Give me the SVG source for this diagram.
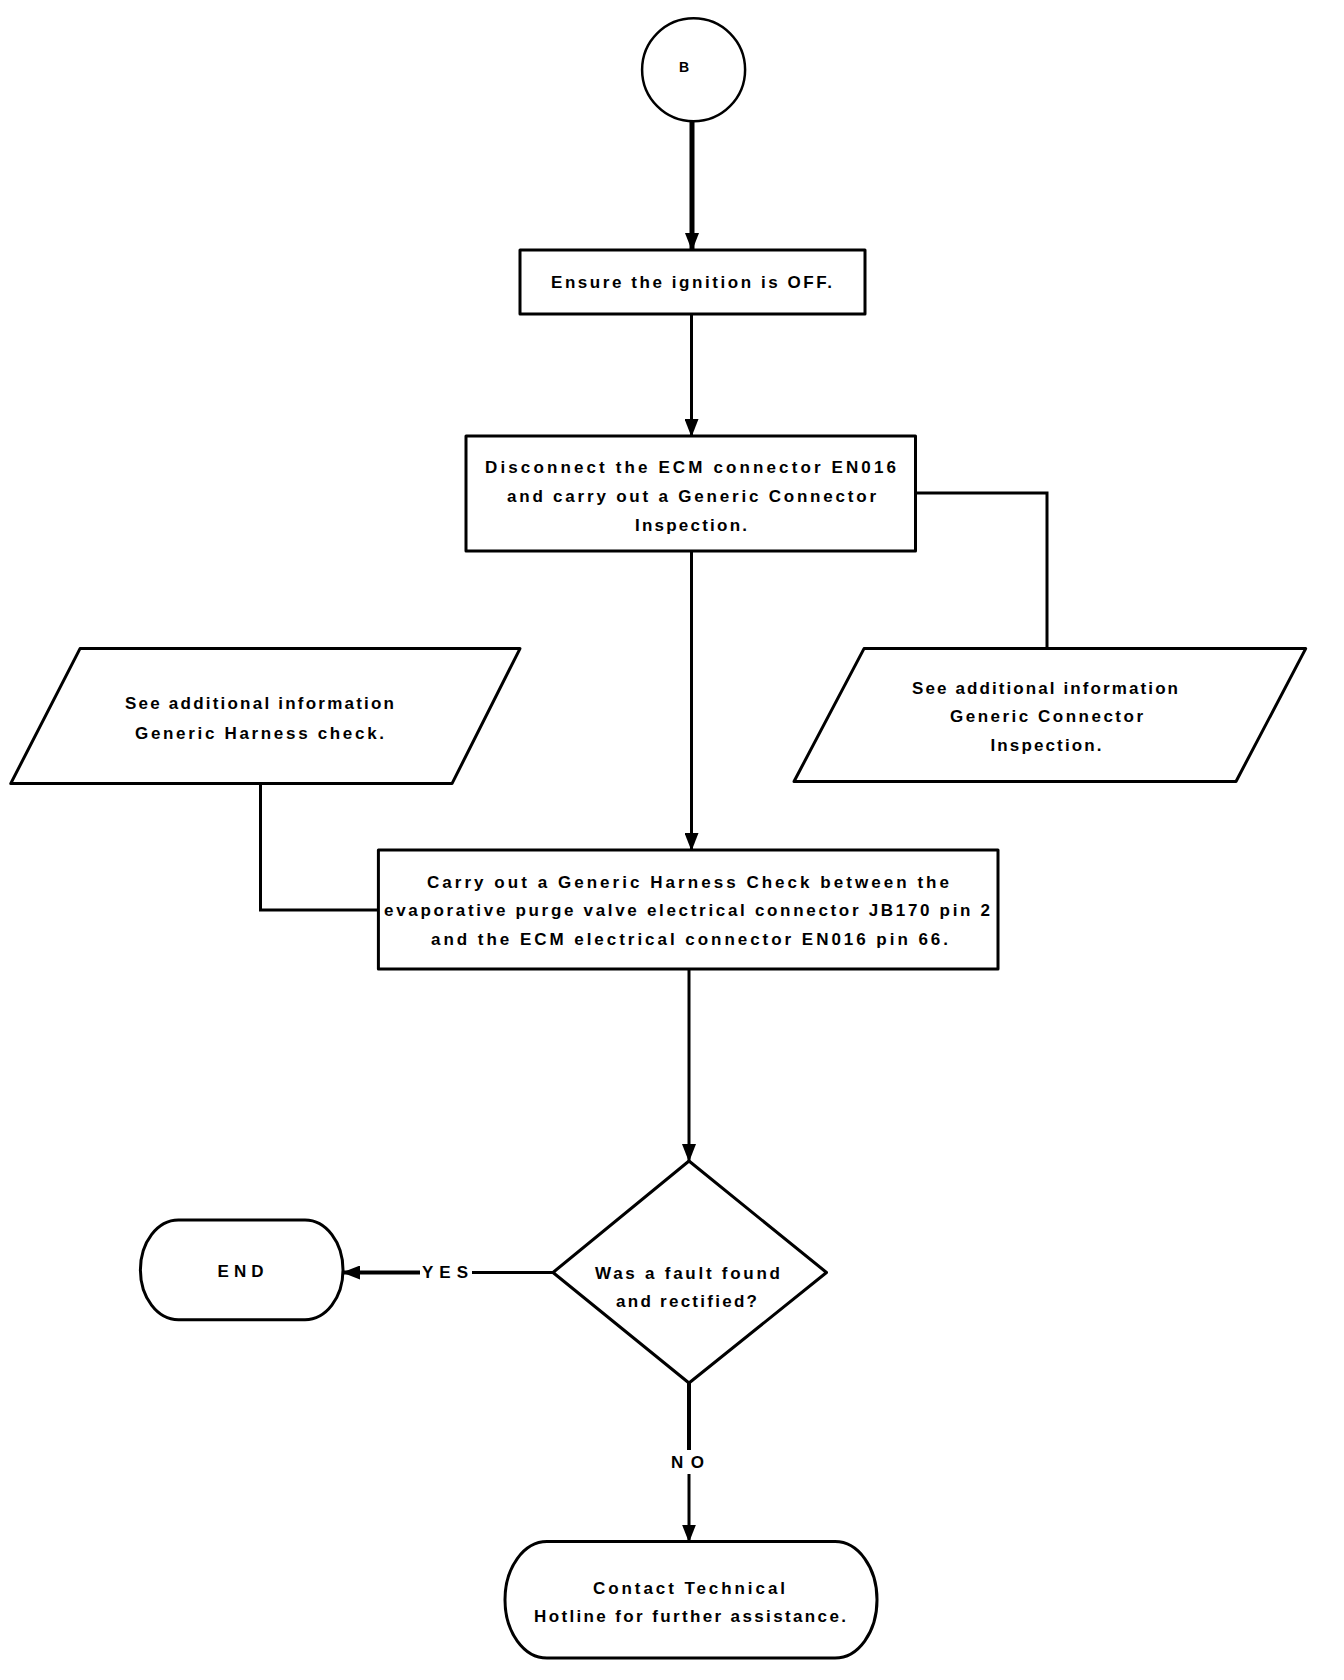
<svg xmlns="http://www.w3.org/2000/svg" width="1344" height="1680" viewBox="0 0 1344 1680">
<style>
.s{fill:#fff;stroke:#000;stroke-width:3;stroke-linejoin:round}
.c{fill:none;stroke:#000;stroke-width:3}
.t{font-family:"Liberation Sans",Arial,sans-serif;font-weight:bold;font-size:17px;fill:#000;text-anchor:middle}
</style>
<defs>
<marker id="ah" markerUnits="userSpaceOnUse" markerWidth="18" markerHeight="14" refX="17" refY="7" orient="auto">
<path d="M0,0 L18,7 L0,14 z" fill="#000"/>
</marker>
</defs>
<rect width="1344" height="1680" fill="#fff"/>
<g id="connectors">
<path class="c" style="stroke-width:5" d="M692 121 V250" marker-end="url(#ah)"/>
<path class="c" d="M691.5 314 V436" marker-end="url(#ah)"/>
<path class="c" d="M915.5 493 H1047 V648.6"/>
<path class="c" d="M691.5 551 V850" marker-end="url(#ah)"/>
<path class="c" d="M260.5 783.6 V910 H378.4"/>
<path class="c" d="M689 969 V1161" marker-end="url(#ah)"/>
<path class="c" d="M553 1272.5 H472"/>
<path class="c" style="stroke-width:4" d="M420 1272.5 H343" marker-end="url(#ah)"/>
<path class="c" style="stroke-width:4" d="M689 1383 V1450"/>
<path class="c" d="M689 1474 V1541.6" marker-end="url(#ah)"/>
<text class="t" x="445" y="1277.5" textLength="46" lengthAdjust="spacing">YES</text>
<text class="t" x="687.5" y="1468" textLength="33" lengthAdjust="spacing">NO</text>
</g>
<g id="start">
<circle class="s" cx="693.6" cy="69.7" r="51.5" style="stroke-width:2.5"/>
<text class="t" x="684" y="71.5" style="font-size:14px">B</text>
</g>
<g id="ensure">
<rect class="s" x="520" y="250" width="345" height="64"/>
<text class="t" x="691.5" y="288" textLength="281" lengthAdjust="spacing">Ensure the ignition is OFF.</text>
</g>
<g id="disconnect">
<rect class="s" x="466" y="436" width="449.5" height="115"/>
<text class="t" x="690.5" y="473.4" textLength="411" lengthAdjust="spacing">Disconnect the ECM connector EN016</text>
<text class="t" x="691.5" y="502.3" textLength="369" lengthAdjust="spacing">and carry out a Generic Connector</text>
<text class="t" x="691" y="531.3" textLength="112" lengthAdjust="spacing">Inspection.</text>
</g>
<g id="info-harness">
<polygon class="s" points="80,648.6 520,648.6 452,783.6 10.7,783.6"/>
<text class="t" x="259.5" y="709.2" textLength="269" lengthAdjust="spacing">See additional information</text>
<text class="t" x="259.5" y="739.2" textLength="249" lengthAdjust="spacing">Generic Harness check.</text>
</g>
<g id="info-connector">
<polygon class="s" points="864,648.6 1305.7,648.6 1236,781.5 794,781.5"/>
<text class="t" x="1045" y="694.2" textLength="266" lengthAdjust="spacing">See additional information</text>
<text class="t" x="1046.5" y="722" textLength="193" lengthAdjust="spacing">Generic Connector</text>
<text class="t" x="1046" y="751" textLength="111" lengthAdjust="spacing">Inspection.</text>
</g>
<g id="harness-check">
<rect class="s" x="378.4" y="850" width="619.6" height="119"/>
<text class="t" x="688" y="888.3" textLength="522" lengthAdjust="spacing">Carry out a Generic Harness Check between the</text>
<text class="t" x="687" y="916" textLength="606" lengthAdjust="spacing">evaporative purge valve electrical connector JB170 pin 2</text>
<text class="t" x="689.5" y="945" textLength="517" lengthAdjust="spacing">and the ECM electrical connector EN016 pin 66.</text>
</g>
<g id="decision">
<polygon class="s" points="689,1161 826.5,1272.5 689,1383 553,1272.5"/>
<text class="t" x="687.5" y="1278.5" textLength="185" lengthAdjust="spacing">Was a fault found</text>
<text class="t" x="686.5" y="1307.4" textLength="141" lengthAdjust="spacing">and rectified?</text>
</g>
<g id="end">
<rect class="s" x="140.4" y="1220" width="202.6" height="99.7" rx="38" ry="49.8"/>
<text class="t" x="240.6" y="1277.4" textLength="46" lengthAdjust="spacing">END</text>
</g>
<g id="contact">
<rect class="s" x="505" y="1541.6" width="372" height="116.4" rx="42" ry="58"/>
<text class="t" x="689" y="1593.6" textLength="192" lengthAdjust="spacing">Contact Technical</text>
<text class="t" x="690" y="1621.5" textLength="312" lengthAdjust="spacing">Hotline for further assistance.</text>
</g>
</svg>
